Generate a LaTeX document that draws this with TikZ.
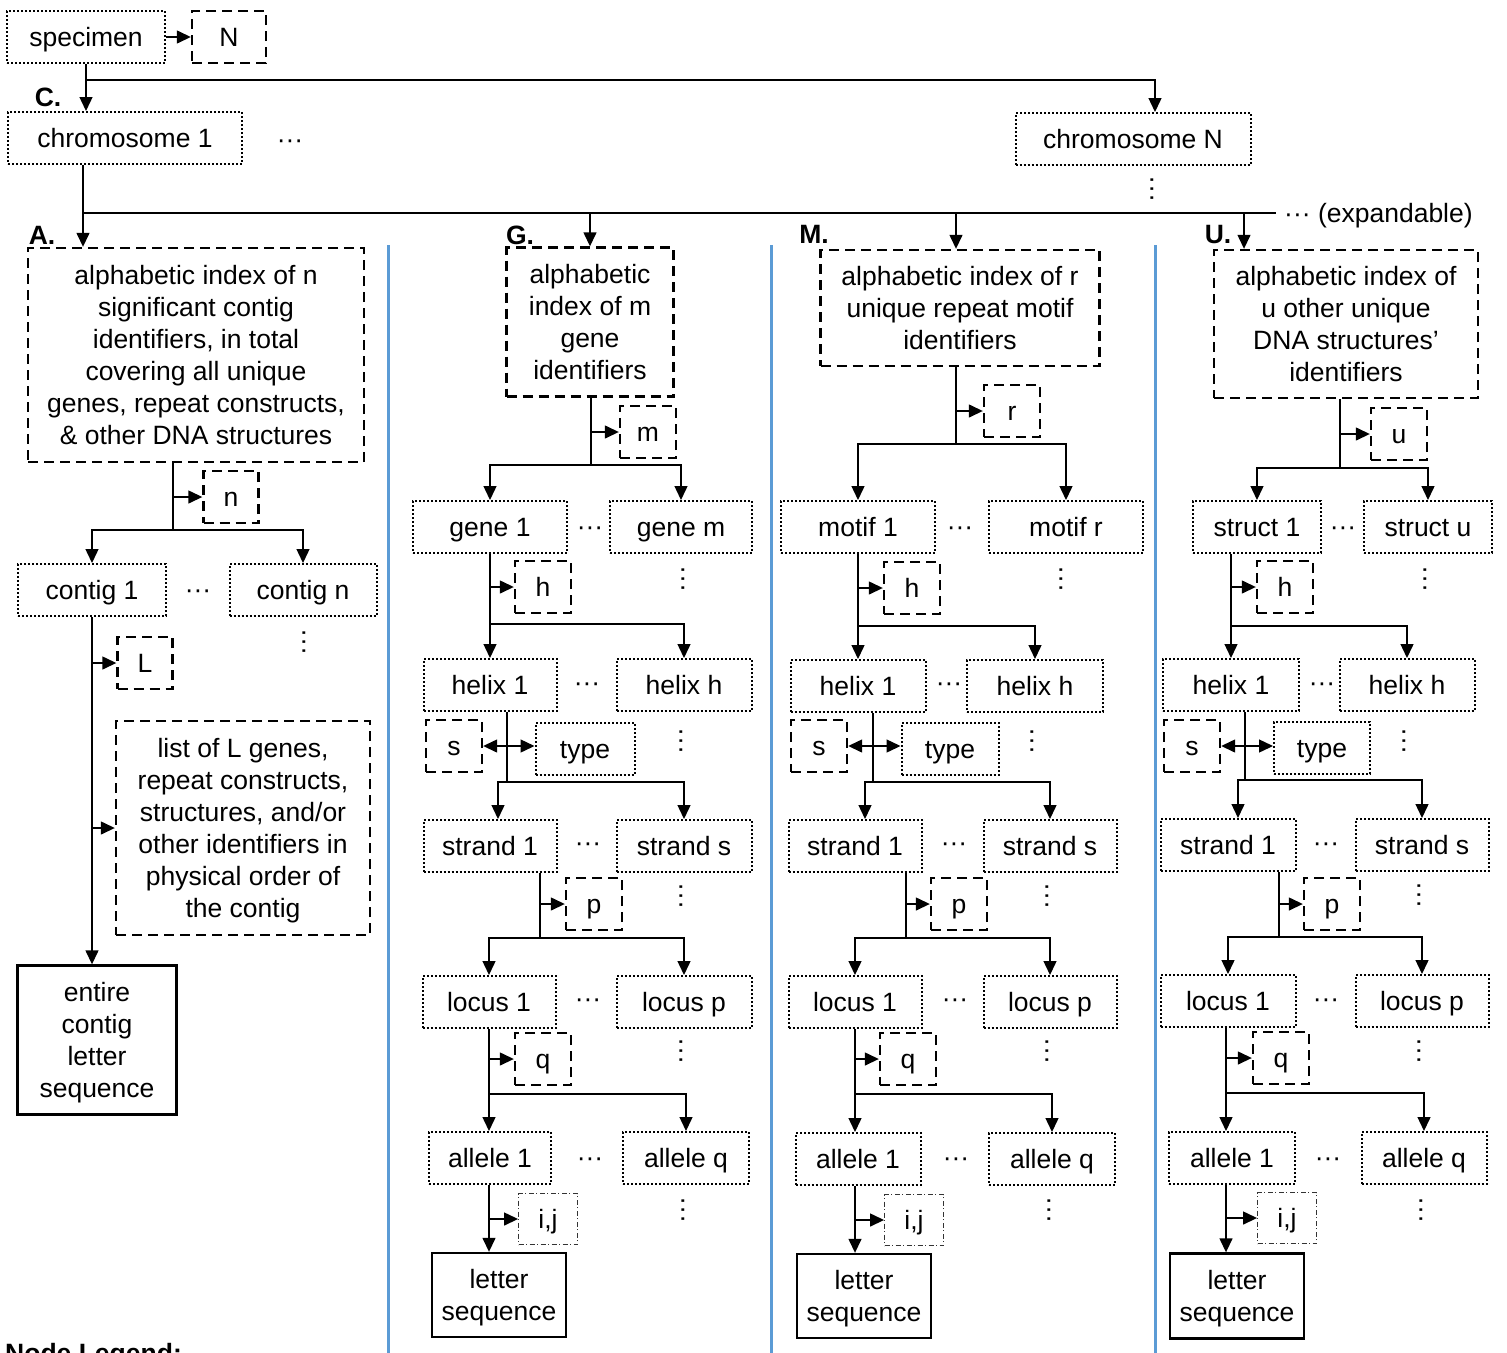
\documentclass[tikz,border=0pt]{standalone}
\usepackage{fontspec}
\setmainfont{Liberation Sans}
\usetikzlibrary{arrows.meta}
\definecolor{divblue}{RGB}{91,155,213}

\tikzset{
	box/.style={draw, line width=2pt, inner sep=0pt, font=\fontsize{26.5}{32}\selectfont},
	dotbox/.style={box, dash pattern=on 2pt off 2pt, minimum height=52, text height=22, text depth=3},
	dashbox/.style={box, line width=2.4pt, dash pattern=on 10pt off 6pt, align=center, text depth=-2pt},
	cntbox/.style={box, line width=2.4pt, dash pattern=on 10pt off 6pt, minimum width=56, minimum height=52, text height=22, text depth=3},
	seqbox/.style={box, line width=2.4pt, align=center, text depth=-2pt},
	ijbox/.style={box, line width=0.9pt, draw=black!80, dash pattern=on 5pt off 2.5pt on 1pt off 2.5pt, minimum width=59, minimum height=51, text height=22, text depth=3},
	conn/.style={line width=1.4pt},
	arr/.style={conn, -{Triangle[length=14pt,width=13pt]}},
	note/.style={inner sep=0pt, font=\fontsize{26.5}{32}\selectfont},
	hdots/.style={note, yshift=-4pt},
	vdots/.style={hdots, rotate=90},
	lbl/.style={inner sep=0pt, font=\fontsize{26.5}{32}\selectfont\bfseries},
	divider/.style={line width=3pt, divblue}
}

\begin{document}
\begin{tikzpicture}[x=1pt,y=-1pt]
	\useasboundingbox (0,0) rectangle (1507,1352);

	% column dividers
	\draw[divider] (388,245) -- (388,1360);
	\draw[divider] (771,245) -- (771,1360);
	\draw[divider] (1155,245) -- (1155,1360);

	% specimen and chromosomes
	\node[dotbox, minimum width=158] (specimen) at (86,37) {specimen};
	\node[cntbox, minimum width=74] (cntN) at (229,37) {N};
	\node[dotbox, minimum width=234] (chrom1) at (125,138) {chromosome 1};
	\node[hdots] (dotsC) at (290,140) {···};
	\node[dotbox, minimum width=235] (chromN) at (1133,139) {chromosome N};
	\node[vdots] (vdotsC) at (1155,185) {···};
	\node[note, anchor=west] (expd) at (1284,216) {··· (expandable)};

	\node[lbl] (labC) at (48,97) {C.};
	\node[lbl] (labA) at (42,235) {A.};
	\node[lbl] (labG) at (520,235) {G.};
	\node[lbl] (labM) at (814,234) {M.};
	\node[lbl] (labU) at (1218,235) {U.};

	\coordinate (jS) at (86,80);
	\coordinate (jC) at (83,213);
	\draw[arr] (specimen.east) -- (cntN.west);
	\draw[arr] (specimen.south) -- (specimen.south |- chrom1.north);
	\draw[arr] (jS) -| ([xshift=22pt]chromN.north);

	% column A: contigs
	\node[dashbox, minimum width=336, minimum height=214] (idxA) at (196,355)
		{alphabetic index of n\\ significant contig\\ identifiers, in total\\ covering all unique\\ genes, repeat constructs,\\ \& other DNA structures};
	\node[cntbox, minimum width=55] (cntn) at (231,497) {n};
	\node[dotbox, minimum width=148] (contig1) at (92,590) {contig 1};
	\node[hdots] (dotsA) at (198,590) {···};
	\node[dotbox, minimum width=147] (contign) at (303,590) {contig n};
	\node[vdots] (vdotsA) at (307,638) {···};
	\node[cntbox, minimum width=55] (cntL) at (145,663) {L};
	\node[dashbox, minimum width=254, minimum height=214] (listA) at (243,828)
		{list of L genes,\\ repeat constructs,\\ structures, and/or\\ other identifiers in\\ physical order of\\ the contig};
	\node[seqbox, minimum width=159, minimum height=149] (seqA) at (97,1040) {entire\\ contig\\ letter\\ sequence};

	\coordinate (jA) at (173,530);
	\draw[arr] (jA |- idxA.south) |- (cntn.west);
	\draw[arr] (jA |- idxA.south) -- (jA) -| (contig1.north);
	\draw[arr] (jA) -| (contign.north);
	\draw[arr] (contig1.south) |- (cntL.west);
	\draw[arr] (contig1.south) |- (listA.west);
	\draw[arr] (contig1.south) -- (contig1.south |- seqA.north);

	% column G: genes
	\node[dashbox, minimum width=167, minimum height=149] (idxG) at (590,322) {alphabetic\\ index of m\\ gene\\ identifiers};
	\node[cntbox] (cntm) at (648,432) {m};
	\node[dotbox, minimum width=154] (gene1) at (490,527) {gene 1};
	\node[hdots] (dotsG1) at (590,527) {···};
	\node[dotbox, minimum width=142] (genem) at (681,527) {gene m};
	\node[vdots] (vdotsG1) at (686,575) {···};
	\node[cntbox] (cnthG) at (543,587) {h};
	\node[dotbox, minimum width=133] (helix1G) at (490,685) {helix 1};
	\node[hdots] (dotsG2) at (587,683) {···};
	\node[dotbox, minimum width=135] (helixhG) at (684,685) {helix h};
	\node[vdots] (vdotsG2) at (684,737) {···};
	\node[cntbox] (sG) at (454,746) {s};
	\node[dotbox, minimum width=99] (typeG) at (585,749) {type};
	\node[dotbox, minimum width=133] (strand1G) at (490,846) {strand 1};
	\node[hdots] (dotsG3) at (588,843) {···};
	\node[dotbox, minimum width=135] (strandsG) at (684,846) {strand s};
	\node[vdots] (vdotsG3) at (684,892) {···};
	\node[cntbox] (cntpG) at (594,904) {p};
	\node[dotbox, minimum width=133] (locus1G) at (489,1002) {locus 1};
	\node[hdots] (dotsG4) at (588,999) {···};
	\node[dotbox, minimum width=135] (locuspG) at (684,1002) {locus p};
	\node[vdots] (vdotsG4) at (684,1047) {···};
	\node[cntbox] (cntqG) at (543,1059) {q};
	\node[dotbox, minimum width=122] (allele1G) at (490,1158) {allele 1};
	\node[hdots] (dotsG5) at (590,1158) {···};
	\node[dotbox, minimum width=126] (alleleqG) at (686,1158) {allele q};
	\node[vdots] (vdotsG5) at (686,1206) {···};
	\node[ijbox] (ijG) at (548,1219) {i,j};
	\node[seqbox, minimum width=134, minimum height=84] (seqG) at (499,1295) {letter\\ sequence};

	\coordinate (jG) at (591,465);
	\draw[arr] (jG |- idxG.south) |- (cntm.west);
	\draw[arr] (jG |- idxG.south) -- (jG) -| (gene1.north);
	\draw[arr] (jG) -| (genem.north);
	\coordinate (jGh) at (490,624);
	\draw[arr] (gene1.south) |- (cnthG.west);
	\draw[arr] (gene1.south) -- (helix1G.north);
	\draw[arr] (jGh) -| (helixhG.north);
	\coordinate (tGs) at (507,782);
	\draw[arr] (tGs |- sG.east) -- (sG.east);
	\draw[arr] (tGs |- sG.east) -- (typeG.west |- sG.east);
	\draw[arr] (tGs |- helix1G.south) -- (tGs) -| ([xshift=8pt]strand1G.north);
	\draw[arr] (tGs) -| (strandsG.north);
	\coordinate (tGp) at (540,938);
	\draw[arr] (tGp |- strand1G.south) |- (cntpG.west);
	\draw[arr] (tGp |- strand1G.south) -- (tGp) -| (locus1G.north);
	\draw[arr] (tGp) -| (locuspG.north);
	\coordinate (jGq) at (489,1094);
	\draw[arr] (locus1G.south) |- (cntqG.west);
	\draw[arr] (locus1G.south) -- (locus1G.south |- allele1G.north);
	\draw[arr] (jGq) -| (alleleqG.north);
	\draw[arr] (jGq |- allele1G.south) |- (ijG.west);
	\draw[arr] (jGq |- allele1G.south) -- (jGq |- seqG.north);

	% column M: repeat motifs
	\node[dashbox, minimum width=279, minimum height=116] (idxM) at (960,308) {alphabetic index of r\\ unique repeat motif\\ identifiers};
	\node[cntbox] (cntr) at (1012,411) {r};
	\node[dotbox, minimum width=154] (motif1) at (858,527) {motif 1};
	\node[hdots] (dotsM1) at (960,527) {···};
	\node[dotbox, minimum width=154] (motifr) at (1066,527) {motif r};
	\node[vdots] (vdotsM1) at (1064,575) {···};
	\node[cntbox] (cnthM) at (912,588) {h};
	\node[dotbox, minimum width=135] (helix1M) at (858,686) {helix 1};
	\node[hdots] (dotsM2) at (949,683) {···};
	\node[dotbox, minimum width=136] (helixhM) at (1035,686) {helix h};
	\node[vdots] (vdotsM2) at (1035,737) {···};
	\node[cntbox] (sM) at (819,746) {s};
	\node[dotbox, minimum width=97] (typeM) at (950,749) {type};
	\node[dotbox, minimum width=133] (strand1M) at (855,846) {strand 1};
	\node[hdots] (dotsM3) at (954,843) {···};
	\node[dotbox, minimum width=133] (strandsM) at (1050,846) {strand s};
	\node[vdots] (vdotsM3) at (1050,892) {···};
	\node[cntbox] (cntpM) at (959,904) {p};
	\node[dotbox, minimum width=133] (locus1M) at (855,1002) {locus 1};
	\node[hdots] (dotsM4) at (955,999) {···};
	\node[dotbox, minimum width=133] (locuspM) at (1050,1002) {locus p};
	\node[vdots] (vdotsM4) at (1050,1047) {···};
	\node[cntbox] (cntqM) at (908,1059) {q};
	\node[dotbox, minimum width=125] (allele1M) at (858,1159) {allele 1};
	\node[hdots] (dotsM5) at (956,1158) {···};
	\node[dotbox, minimum width=126] (alleleqM) at (1052,1159) {allele q};
	\node[vdots] (vdotsM5) at (1052,1206) {···};
	\node[ijbox] (ijM) at (914,1220) {i,j};
	\node[seqbox, minimum width=134, minimum height=84] (seqM) at (864,1296) {letter\\ sequence};

	\coordinate (jM) at (956,444);
	\draw[arr] (jM |- idxM.south) |- (cntr.west);
	\draw[arr] (jM |- idxM.south) -- (jM) -| (motif1.north);
	\draw[arr] (jM) -| (motifr.north);
	\coordinate (jMh) at (858,626);
	\draw[arr] (motif1.south) |- (cnthM.west);
	\draw[arr] (motif1.south) -- (helix1M.north);
	\draw[arr] (jMh) -| (helixhM.north);
	\coordinate (tMs) at (873,782);
	\draw[arr] (tMs |- sM.east) -- (sM.east);
	\draw[arr] (tMs |- sM.east) -- (typeM.west |- sM.east);
	\draw[arr] (tMs |- helix1M.south) -- (tMs) -| ([xshift=10pt]strand1M.north);
	\draw[arr] (tMs) -| (strandsM.north);
	\coordinate (tMp) at (906,938);
	\draw[arr] (tMp |- strand1M.south) |- (cntpM.west);
	\draw[arr] (tMp |- strand1M.south) -- (tMp) -| (locus1M.north);
	\draw[arr] (tMp) -| (locuspM.north);
	\coordinate (jMq) at (855,1094);
	\draw[arr] (locus1M.south) |- (cntqM.west);
	\draw[arr] (locus1M.south) -- (locus1M.south |- allele1M.north);
	\draw[arr] (jMq) -| (alleleqM.north);
	\draw[arr] (jMq |- allele1M.south) |- (ijM.west);
	\draw[arr] (jMq |- allele1M.south) -- (jMq |- seqM.north);

	% column U: other structures
	\node[dashbox, minimum width=264, minimum height=148] (idxU) at (1346,324) {alphabetic index of\\ u other unique\\ DNA structures’\\ identifiers};
	\node[cntbox] (cntu) at (1399,434) {u};
	\node[dotbox, minimum width=128] (struct1) at (1257,527) {struct 1};
	\node[hdots] (dotsU1) at (1343,527) {···};
	\node[dotbox, minimum width=128] (structu) at (1428,527) {struct u};
	\node[vdots] (vdotsU1) at (1428,575) {···};
	\node[cntbox] (cnthU) at (1285,587) {h};
	\node[dotbox, minimum width=136] (helix1U) at (1231,685) {helix 1};
	\node[hdots] (dotsU2) at (1322,683) {···};
	\node[dotbox, minimum width=135] (helixhU) at (1407,685) {helix h};
	\node[vdots] (vdotsU2) at (1407,737) {···};
	\node[cntbox] (sU) at (1192,746) {s};
	\node[dotbox, minimum width=96] (typeU) at (1322,748) {type};
	\node[dotbox, minimum width=135] (strand1U) at (1228,845) {strand 1};
	\node[hdots] (dotsU3) at (1326,843) {···};
	\node[dotbox, minimum width=133] (strandsU) at (1422,845) {strand s};
	\node[vdots] (vdotsU3) at (1422,891) {···};
	\node[cntbox] (cntpU) at (1332,904) {p};
	\node[dotbox, minimum width=135] (locus1U) at (1228,1001) {locus 1};
	\node[hdots] (dotsU4) at (1326,999) {···};
	\node[dotbox, minimum width=133] (locuspU) at (1422,1001) {locus p};
	\node[vdots] (vdotsU4) at (1422,1047) {···};
	\node[cntbox] (cntqU) at (1281,1058) {q};
	\node[dotbox, minimum width=126] (allele1U) at (1232,1158) {allele 1};
	\node[hdots] (dotsU5) at (1328,1158) {···};
	\node[dotbox, minimum width=125] (alleleqU) at (1424,1158) {allele q};
	\node[vdots] (vdotsU5) at (1424,1206) {···};
	\node[ijbox] (ijU) at (1287,1218) {i,j};
	\node[seqbox, minimum width=134, minimum height=85] (seqU) at (1237,1296) {letter\\ sequence};

	\coordinate (jU) at (1340,468);
	\draw[arr] (jU |- idxU.south) |- (cntu.west);
	\draw[arr] (jU |- idxU.south) -- (jU) -| (struct1.north);
	\draw[arr] (jU) -| (structu.north);
	\coordinate (tUh) at (1231,626);
	\draw[arr] (tUh |- struct1.south) |- (cnthU.west);
	\draw[arr] (tUh |- struct1.south) -- (tUh |- helix1U.north);
	\draw[arr] (tUh) -| (helixhU.north);
	\coordinate (tUs) at (1245,780);
	\draw[arr] (tUs |- sU.east) -- (sU.east);
	\draw[arr] (tUs |- sU.east) -- (typeU.west |- sU.east);
	\draw[arr] (tUs |- helix1U.south) -- (tUs) -| ([xshift=10pt]strand1U.north);
	\draw[arr] (tUs) -| (strandsU.north);
	\coordinate (tUp) at (1279,937);
	\draw[arr] (tUp |- strand1U.south) |- (cntpU.west);
	\draw[arr] (tUp |- strand1U.south) -- (tUp) -| (locus1U.north);
	\draw[arr] (tUp) -| (locuspU.north);
	\coordinate (tUq) at (1226,1093);
	\draw[arr] (tUq |- locus1U.south) |- (cntqU.west);
	\draw[arr] (tUq |- locus1U.south) -- (tUq |- allele1U.north);
	\draw[arr] (tUq) -| (alleleqU.north);
	\draw[arr] (tUq |- allele1U.south) |- (ijU.west);
	\draw[arr] (tUq |- allele1U.south) -- (tUq |- seqU.north);

	% chromosome 1 to the four indexes
	\draw[arr] (jC |- chrom1.south) -- (jC |- idxA.north);
	\draw[conn] (jC) -- ([xshift=-8pt]jC -| expd.west);
	\draw[arr] (jC) -| (idxG.north);
	\draw[arr] (jC) -| ([xshift=-4pt]idxM.north);
	\draw[arr] (jC) -| ([xshift=-102pt]idxU.north);

	% legend heading, cut off by the page edge
	\node[lbl, anchor=base west] (legend) at (5,1362) {Node Legend:};
\end{tikzpicture}
\end{document}
